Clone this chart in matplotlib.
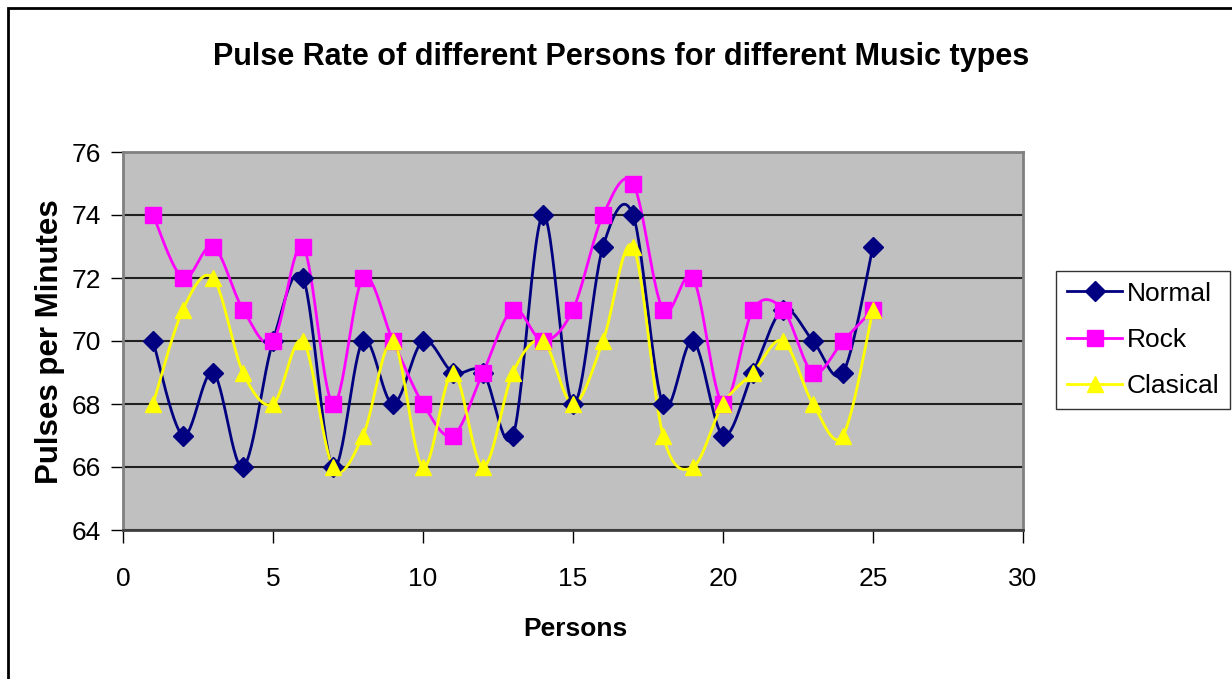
import numpy as np
import matplotlib
matplotlib.use('Agg')
import matplotlib.pyplot as plt

plt.rcParams['font.family'] = ['Liberation Sans', 'DejaVu Sans']

# Data
persons = list(range(1, 26))
normal = [70, 67, 69, 66, 70, 72, 66, 70, 68, 70, 69, 69, 67, 74, 68, 73, 74, 68, 70, 67, 69, 71, 70, 69, 73]
rock = [74, 72, 73, 71, 70, 73, 68, 72, 70, 68, 67, 69, 71, 70, 71, 74, 75, 71, 72, 68, 71, 71, 69, 70, 71]
clasical = [68, 71, 72, 69, 68, 70, 66, 67, 70, 66, 69, 66, 69, 70, 68, 70, 73, 67, 66, 68, 69, 70, 68, 67, 71]

series = [
    ('Normal', normal, '#000080', 'D'),
    ('Rock', rock, '#FF00FF', 's'),
    ('Clasical', clasical, '#FFFF00', '^'),
]


def smooth(x, y, n=30):
    # Excel-like smoothed line: cubic Bezier with Catmull-Rom control points
    x = np.asarray(x, float)
    y = np.asarray(y, float)
    px = np.concatenate([[x[0]], x, [x[-1]]])
    py = np.concatenate([[y[0]], y, [y[-1]]])
    t = np.linspace(0, 1, n)
    xs, ys = [], []
    for i in range(1, len(px) - 2):
        p0 = np.array([px[i], py[i]])
        p3 = np.array([px[i + 1], py[i + 1]])
        c1 = p0 + (p3 - np.array([px[i - 1], py[i - 1]])) / 6
        c2 = p3 - (np.array([px[i + 2], py[i + 2]]) - p0) / 6
        b = (np.outer((1 - t) ** 3, p0) + np.outer(3 * (1 - t) ** 2 * t, c1)
             + np.outer(3 * (1 - t) * t ** 2, c2) + np.outer(t ** 3, p3))
        xs.extend(b[:, 0])
        ys.extend(b[:, 1])
    return xs, ys


fig = plt.figure(figsize=(12.32, 6.79), dpi=100)
ax = fig.add_axes([123 / 1232, 1 - 530 / 679, 900 / 1232, 378 / 679])
ax.set_facecolor('#C0C0C0')

handles = []
for name, vals, col, mk in series:
    sx, sy = smooth(persons, vals)
    ax.plot(sx, sy, color=col, lw=2, zorder=3)
    ms = 10 if mk == 'D' else 11
    ax.plot(persons, vals, linestyle='none', marker=mk, color=col, ms=ms, zorder=4)
    h, = ax.plot([], [], color=col, lw=2, marker=mk, ms=ms)
    h.set_label(name)
    handles.append(h)

ax.set_xlim(0, 30)
ax.set_ylim(64, 76)
ax.set_xticks(range(0, 31, 5))
ax.set_yticks(range(64, 77, 2))
ax.yaxis.grid(True, color='#202020', lw=1.5)
ax.set_axisbelow(True)
for s in ax.spines.values():
    s.set_color('#808080')
    s.set_linewidth(2)
ax.spines['bottom'].set_color('#404040')
ax.tick_params(axis='both', direction='out', length=9, width=1, labelsize=19)
ax.tick_params(axis='x', pad=18)
ax.tick_params(axis='y', pad=7)

fig.text(621 / 1232, 1 - 57 / 679, 'Pulse Rate of different Persons for different Music types',
         fontsize=22, fontweight='bold', ha='center', va='center')
fig.text(575 / 1232, 1 - 629 / 679, 'Persons', fontsize=19, fontweight='bold',
         ha='center', va='center')
fig.text(50 / 1232, 1 - 342 / 679, 'Pulses per Minutes', fontsize=22.5, fontweight='bold',
         rotation=90, ha='center', va='center')

fig.legend(handles=handles, loc='center', bbox_to_anchor=(1143 / 1232, 1 - 340 / 679),
           fontsize=19, frameon=True, fancybox=False, edgecolor='black',
           handlelength=2.1, labelspacing=0.85, borderpad=0.4, handletextpad=0.15,
           borderaxespad=0)

# outer chart border
fig.patches.append(plt.Rectangle((8 / 1232, -0.1), 1.2, 1.1 - 8 / 679, transform=fig.transFigure,
                                 fill=False, edgecolor='black', lw=2))

fig.savefig('out.png', dpi=100)
